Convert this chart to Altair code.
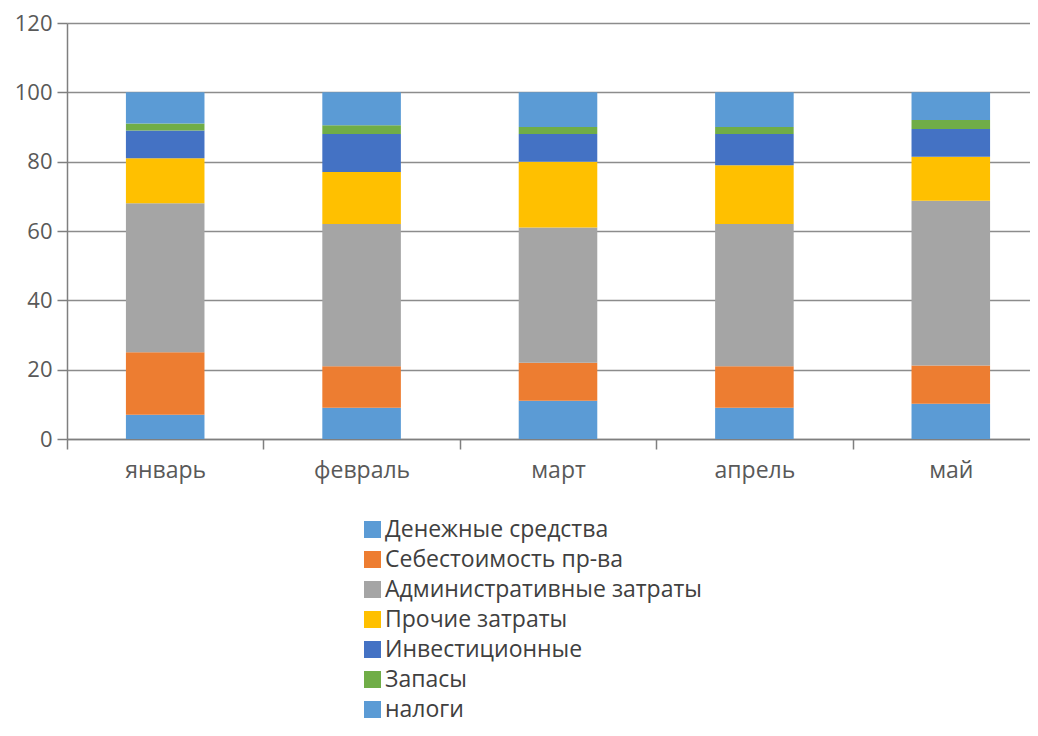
import altair as alt
import pandas as pd

months = ["январь", "февраль", "март", "апрель", "май"]
series = [
    "Денежные средства",
    "Себестоимость пр-ва",
    "Административные затраты",
    "Прочие затраты",
    "Инвестиционные",
    "Запасы",
    "налоги",
]
cash = [7, 9, 11, 9, 10.2]
cost = [18, 12, 11, 12, 11]
admin = [43, 41, 39, 41, 47.5]
other = [13, 15, 19, 17, 12.7]
invest = [8, 11, 8, 9, 8]
stock = [2, 2.5, 2, 2, 2.6]
taxes = [9, 9.5, 10, 10, 8]
colors = ["#5B9BD5", "#ED7D31", "#A5A5A5", "#FFC000", "#4472C4", "#70AD47", "#5B9BD5"]

values = [cash, cost, admin, other, invest, stock, taxes]
rows = []
for si, (name, vals) in enumerate(zip(series, values)):
    for m, v in zip(months, vals):
        rows.append({"month": m, "series": name, "value": v, "order": si})
df = pd.DataFrame(rows)

FONT = "Open Sans"

chart = (
    alt.Chart(df)
    .mark_bar(width=alt.RelativeBandSize(0.4))
    .encode(
        x=alt.X(
            "month:N",
            sort=months,
            title=None,
            scale=alt.Scale(paddingInner=0, paddingOuter=0, range=[0, 982]),
            axis=alt.Axis(
                tickBand="extent",
                labelAngle=0,
                labelFontSize=23,
                labelFont=FONT,
                labelColor="#595959",
                labelPadding=10,
                tickSize=10,
                tickColor="#7f7f7f",
                tickWidth=1.5,
                domainColor="#7f7f7f",
                domainWidth=1.5,
                grid=False,
            ),
        ),
        y=alt.Y(
            "value:Q",
            stack="zero",
            title=None,
            scale=alt.Scale(domain=[0, 120], nice=False),
            axis=alt.Axis(
                values=[0, 20, 40, 60, 80, 100, 120],
                labelFontSize=22,
                labelFont=FONT,
                labelColor="#595959",
                labelPadding=5,
                tickSize=10,
                tickColor="#7f7f7f",
                tickWidth=1.5,
                domainColor="#7f7f7f",
                domainWidth=1.5,
                grid=True,
                gridColor="#8c8c8c",
                gridWidth=1.5,
            ),
        ),
        color=alt.Color(
            "series:N",
            sort=series,
            scale=alt.Scale(domain=series, range=colors),
            legend=alt.Legend(
                title=None,
                orient="none",
                legendX=294,
                legendY=495,
                direction="vertical",
                symbolType="square",
                symbolSize=289,
                symbolStrokeWidth=0,
                labelFontSize=23,
                labelFont=FONT,
                labelColor="#404040",
                labelOffset=1,
                labelLimit=0,
                rowPadding=6,
                padding=0,
            ),
        ),
        order=alt.Order("order:Q", sort="ascending"),
    )
    .properties(
        width=963,
        height=416,
        autosize=alt.AutoSizeParams(type="none"),
        padding={"left": 59, "top": 15, "right": 0, "bottom": 289},
    )
    .configure_view(stroke=None)
)

chart.save("out.html", embed_options={"renderer": "svg", "actions": False})
